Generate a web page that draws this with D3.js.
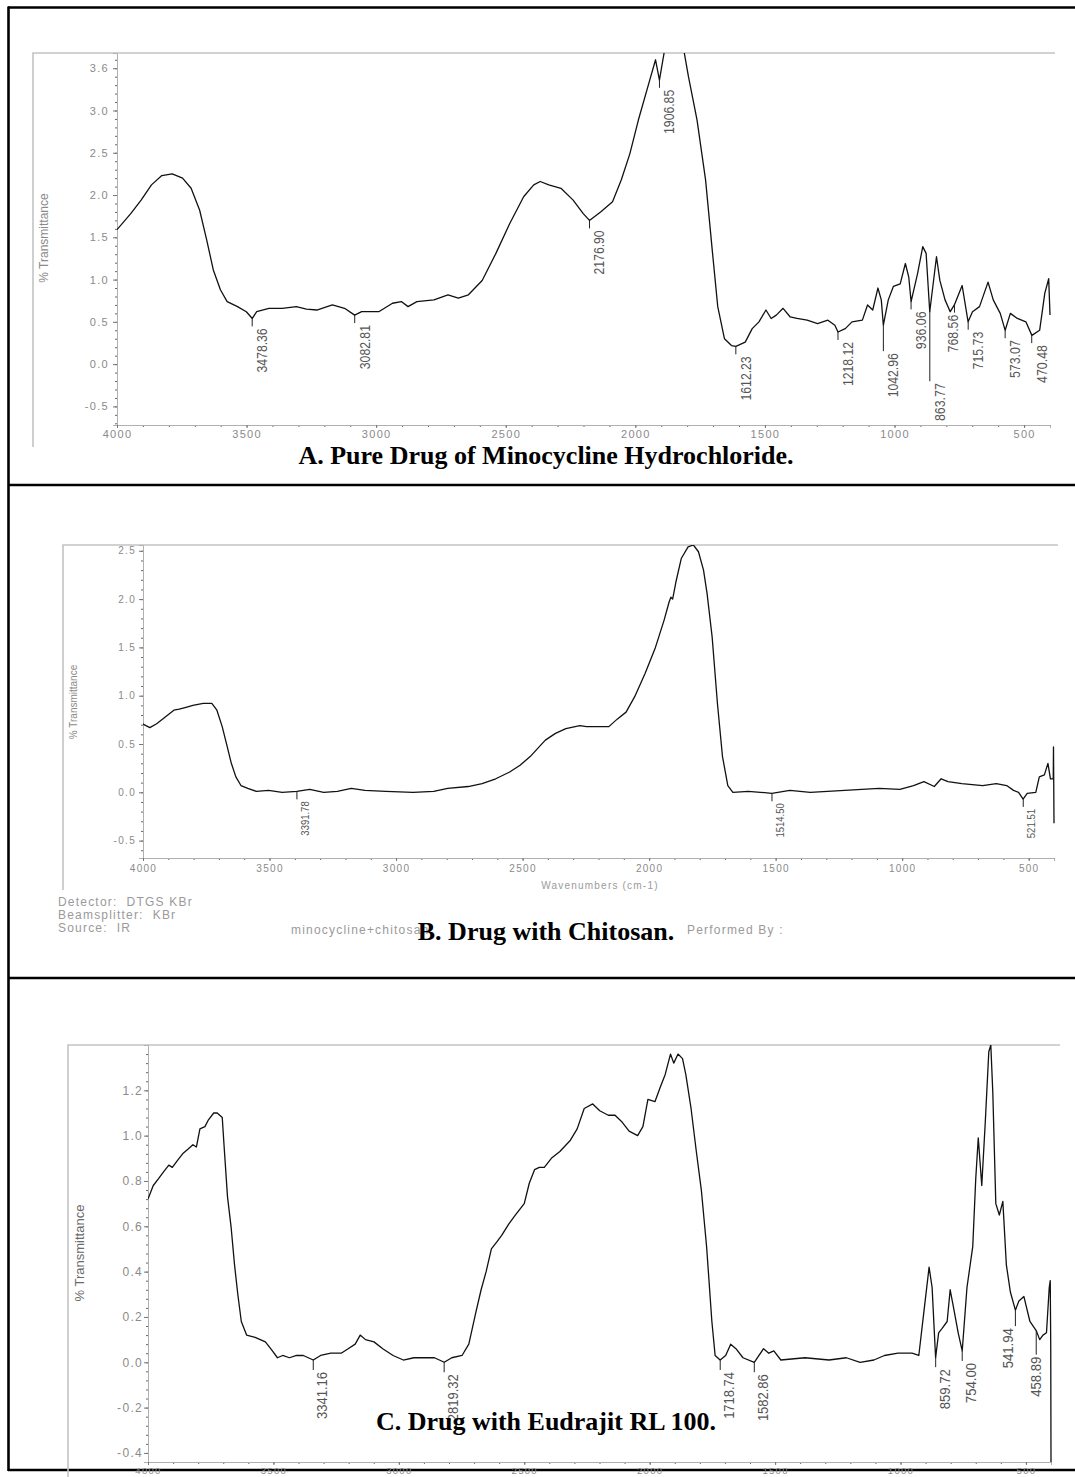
<!DOCTYPE html>
<html>
<head>
<meta charset="utf-8">
<script src="https://cdn.jsdelivr.net/npm/d3@7"></script>
<style>
  body { margin: 0; background: #fff; }
  svg { display: block; }
</style>
</head>
<body>
<svg id="fig" width="1075" height="1477"></svg>
<script>
// ---------------- data ----------------------------------------------
// [wavenumber cm-1, %T]

const specA = [[4000,1.59],[3947,1.78],[3907,1.94],[3867,2.12],[3827,2.23],[3787,2.25],[3747,2.20],[3714,2.08],[3681,1.82],[3654,1.47],[3628,1.11],[3601,0.88],[3575,0.74],[3535,0.68],[3501,0.62],[3478,0.54],[3461,0.62],[3414,0.66],[3362,0.66],[3308,0.68],[3269,0.65],[3229,0.64],[3169,0.70],[3122,0.66],[3083,0.58],[3056,0.62],[2990,0.62],[2937,0.72],[2903,0.74],[2877,0.68],[2843,0.74],[2777,0.76],[2723,0.82],[2683,0.78],[2644,0.82],[2591,0.99],[2538,1.31],[2485,1.66],[2431,1.98],[2392,2.12],[2367,2.16],[2334,2.12],[2287,2.08],[2240,1.94],[2201,1.78],[2177,1.70],[2134,1.80],[2088,1.92],[2054,2.18],[2021,2.49],[1988,2.89],[1948,3.32],[1922,3.60],[1907,3.36],[1888,3.70],[1870,3.95],[1840,4.00],[1815,3.75],[1795,3.40],[1762,2.89],[1729,2.18],[1702,1.31],[1682,0.68],[1656,0.30],[1629,0.22],[1612,0.21],[1576,0.26],[1549,0.42],[1523,0.50],[1496,0.64],[1476,0.54],[1456,0.58],[1430,0.66],[1403,0.56],[1376,0.54],[1337,0.52],[1297,0.48],[1257,0.52],[1230,0.46],[1218,0.38],[1190,0.42],[1164,0.50],[1124,0.52],[1104,0.70],[1084,0.64],[1064,0.90],[1051,0.76],[1043,0.46],[1024,0.76],[1004,0.92],[978,0.95],[958,1.19],[945,1.03],[936,0.74],[911,1.07],[891,1.39],[878,1.31],[864,0.62],[838,1.27],[825,0.99],[805,0.76],[785,0.62],[769,0.70],[739,0.93],[716,0.50],[699,0.62],[672,0.68],[639,0.97],[619,0.76],[592,0.60],[573,0.40],[553,0.60],[526,0.54],[493,0.50],[470,0.34],[440,0.40],[420,0.84],[405,1.01],[400,0.58]];

const specB = [[4000,0.71],[3996,0.70],[3973,0.67],[3946,0.71],[3912,0.78],[3878,0.85],[3857,0.86],[3830,0.88],[3803,0.90],[3762,0.92],[3728,0.92],[3708,0.85],[3687,0.68],[3667,0.47],[3651,0.30],[3633,0.16],[3613,0.07],[3586,0.04],[3552,0.01],[3504,0.02],[3450,0.00],[3392,0.01],[3341,0.03],[3286,0.00],[3232,0.01],[3177,0.04],[3123,0.02],[3041,0.01],[2933,0.00],[2851,0.01],[2796,0.04],[2715,0.06],[2660,0.09],[2606,0.14],[2551,0.21],[2510,0.28],[2470,0.37],[2442,0.45],[2410,0.54],[2370,0.61],[2329,0.66],[2274,0.69],[2247,0.68],[2206,0.68],[2159,0.68],[2125,0.76],[2091,0.83],[2057,0.99],[2016,1.23],[1975,1.50],[1941,1.78],[1921,1.97],[1914,2.02],[1907,2.00],[1893,2.19],[1873,2.42],[1846,2.54],[1825,2.56],[1805,2.49],[1785,2.30],[1771,2.06],[1751,1.61],[1730,0.92],[1710,0.37],[1689,0.07],[1669,0.00],[1608,0.01],[1560,0.00],[1515,-0.01],[1444,0.02],[1363,0.00],[1227,0.02],[1091,0.04],[1009,0.03],[955,0.07],[914,0.11],[873,0.06],[846,0.14],[819,0.11],[764,0.09],[682,0.07],[628,0.09],[587,0.07],[560,0.02],[540,0.00],[522,-0.07],[506,-0.01],[472,0.00],[458,0.16],[438,0.18],[424,0.30],[414,0.14],[403,0.14],[402,0.47],[400,-0.32]];

const specC = [[4000,0.72],[3979,0.78],[3958,0.81],[3938,0.84],[3917,0.87],[3903,0.86],[3883,0.89],[3862,0.92],[3841,0.94],[3821,0.96],[3807,0.95],[3793,1.03],[3773,1.04],[3759,1.07],[3738,1.10],[3724,1.10],[3704,1.08],[3697,0.96],[3683,0.73],[3669,0.60],[3655,0.43],[3642,0.30],[3628,0.18],[3607,0.12],[3573,0.11],[3532,0.09],[3504,0.05],[3484,0.02],[3463,0.03],[3436,0.02],[3408,0.03],[3381,0.03],[3341,0.01],[3312,0.03],[3271,0.04],[3230,0.04],[3202,0.06],[3174,0.08],[3154,0.12],[3133,0.10],[3099,0.09],[3064,0.06],[3023,0.03],[2982,0.01],[2940,0.02],[2899,0.02],[2858,0.02],[2819,0.00],[2789,0.02],[2748,0.03],[2721,0.08],[2693,0.22],[2672,0.32],[2652,0.40],[2631,0.50],[2610,0.53],[2590,0.56],[2562,0.61],[2535,0.65],[2500,0.70],[2480,0.79],[2459,0.85],[2440,0.86],[2420,0.86],[2392,0.90],[2358,0.93],[2316,0.98],[2289,1.03],[2261,1.12],[2227,1.14],[2199,1.11],[2165,1.09],[2138,1.09],[2110,1.06],[2082,1.02],[2048,1.00],[2027,1.04],[2007,1.16],[1979,1.15],[1959,1.21],[1938,1.27],[1917,1.36],[1904,1.32],[1887,1.36],[1869,1.34],[1856,1.27],[1835,1.12],[1814,0.93],[1794,0.76],[1773,0.51],[1752,0.18],[1739,0.03],[1719,0.01],[1697,0.03],[1677,0.08],[1656,0.06],[1628,0.02],[1583,0.00],[1546,0.06],[1525,0.04],[1505,0.05],[1477,0.01],[1381,0.02],[1285,0.01],[1216,0.02],[1161,0.00],[1106,0.01],[1064,0.03],[1010,0.04],[954,0.04],[927,0.03],[906,0.23],[886,0.42],[874,0.33],[860,0.02],[848,0.13],[834,0.15],[814,0.18],[802,0.32],[790,0.25],[770,0.13],[754,0.05],[735,0.33],[712,0.51],[700,0.81],[690,0.99],[676,0.78],[662,1.06],[648,1.37],[640,1.40],[632,1.19],[620,0.70],[606,0.65],[592,0.71],[578,0.43],[562,0.31],[542,0.23],[528,0.27],[508,0.29],[484,0.18],[459,0.14],[445,0.10],[432,0.12],[418,0.13],[407,0.33],[403,0.36],[401,0.06],[400,-0.44]];

// labelled peak positions
const peaksA = [3478.36, 3082.81, 2176.90, 1906.85, 1612.23, 1218.12, 1042.96, 936.06, 863.77, 768.56, 715.73, 573.07, 470.48];
const peaksB = [3391.78, 1514.50, 521.51];
const peaksC = [3341.16, 2819.32, 1718.74, 1582.86, 859.72, 754.00, 541.94, 458.89];

// axis ticks and their printed labels
const xTicks = [4000, 3500, 3000, 2500, 2000, 1500, 1000, 500];
const yTicksA = [-0.5, 0, 0.5, 1, 1.5, 2, 2.5, 3, 3.5];
const yLabelsA = ["-0.5", "0.0", "0.5", "1.0", "1.5", "2.0", "2.5", "3.0", "3.6"];
const yTicksB = [-0.5, 0, 0.5, 1, 1.5, 2, 2.5];
const yLabelsB = ["-0.5", "0.0", "0.5", "1.0", "1.5", "2.0", "2.5"];
const yTicksC = [-0.4, -0.2, 0, 0.2, 0.4, 0.6, 0.8, 1.0, 1.2];
const yLabelsC = ["-0.4", "-0.2", "0.0", "0.2", "0.4", "0.6", "0.8", "1.0", "1.2"];

const captions = ["A. Pure Drug of Minocycline Hydrochloride.", "B. Drug with Chitosan.", "C. Drug with Eudrajit RL 100."];

// ---------------- layout ----------------------------------------------
const svg = d3.select("#fig");
const sans = "'Liberation Sans', Arial, sans-serif";
const serif = "'Liberation Serif', 'Times New Roman', serif";

const panels = [
    {spec: specA, peaks: peaksA, yTicks: yTicksA, yLabels: yLabelsA, minorStep: 0.1,
     frame: {left: 33, top: 53, right: 1055, bottom: 447},
     xr: [117, 1050], yr: [425, 53], yd: [-0.72, 3.68],
     tickFont: 11, xFont: 11, xPad: 2, yLblPad: 4, title: {x: 45, y: 238, size: 12, fill: "#8a8a8a"},
     lblSize: 14, lblChar: 6.3, lblDx: 15, tick: 8,
     tickExtra: {"863.77": 70, "1042.96": 26}, dxExtra: {"768.56": -11}},
    {spec: specB, peaks: peaksB, yTicks: yTicksB, yLabels: yLabelsB, minorStep: 0.1,
     frame: {left: 63, top: 545, right: 1058, bottom: 890},
     xr: [143, 1054], yr: [858, 545], yd: [-0.68, 2.56],
     tickFont: 10, xFont: 10, xPad: 4, yLblPad: 3, title: {x: 74, y: 702, size: 10, fill: "#8a8a8a"},
     lblSize: 11, lblChar: 4.9, lblDx: 12, tick: 8, tickExtra: {}, dxExtra: {}},
    {spec: specC, peaks: peaksC, yTicks: yTicksC, yLabels: yLabelsC, minorStep: 0.04,
     frame: {left: 68, top: 1045, right: 1060, bottom: 1477},
     xr: [148, 1051], yr: [1462, 1045], yd: [-0.44, 1.40],
     tickFont: 12, xFont: 9.5, xPad: 2, yLblPad: 1, title: {x: 81, y: 1253, size: 13, fill: "#6a6a6a"},
     lblSize: 14, lblChar: 6.7, lblDx: 14, tick: 10,
     tickExtra: {"541.94": 16, "458.89": 24}, dxExtra: {"541.94": -16, "458.89": -9}}
];

function valueAt(spec, wn)
{
    for (let i = 0; i < spec.length - 1; i++) {
        const [w0, v0] = spec[i], [w1, v1] = spec[i + 1];
        if (wn <= w0 && wn >= w1) return v0 + (v1 - v0) * (w0 - wn) / ((w0 - w1) || 1);
    }
    return spec[spec.length - 1][1];
}

function styleAxis(g, size)
{
    g.select(".domain").attr("stroke", "#b0b0b0");
    g.selectAll(".tick line").attr("stroke", "#777");
    g.selectAll(".tick text")
        .attr("fill", "#8a8a8a")
        .attr("font-family", sans)
        .attr("font-size", size)
        .attr("letter-spacing", "1.3px");
}

// table rules (drawn first so panel C's cut tick labels stay on top)
const rules = [[8, 7.5, 1075, 7.5], [8.5, 6.5, 8.5, 1471], [8, 485, 1075, 485], [8, 978, 1075, 978], [8, 1470, 1075, 1470]];
svg.append("g").selectAll("line").data(rules).join("line")
    .attr("x1", d => d[0]).attr("y1", d => d[1]).attr("x2", d => d[2]).attr("y2", d => d[3])
    .attr("stroke", "#000").attr("stroke-width", 2.6);

function drawPanel(p, idx)
{
    const g = svg.append("g");
    const x = d3.scaleLinear().domain([4000, 400]).range(p.xr);
    const y = d3.scaleLinear().domain(p.yd).range(p.yr);

    // gray frame of the instrument printout
    g.append("path")
        .attr("d", `M${p.frame.left},${p.frame.bottom}V${p.frame.top}H${p.frame.right}`)
        .attr("fill", "none").attr("stroke", "#c4c4c4").attr("stroke-width", 1.6);

    // minor ticks
    const yMinor = d3.range(Math.ceil(p.yd[0] / p.minorStep), Math.floor(p.yd[1] / p.minorStep) + 1)
        .map(k => +(k * p.minorStep).toFixed(3));
    g.append("g").attr("transform", `translate(${p.xr[0]},0)`)
        .call(d3.axisLeft(y).tickValues(yMinor).tickSize(2).tickFormat(""))
        .call(a => { a.select(".domain").remove(); a.selectAll("line").attr("stroke", "#666"); });
    g.append("g").attr("transform", `translate(0,${p.yr[0]})`)
        .call(d3.axisBottom(x).tickValues(d3.range(4000, 399, -100)).tickSize(2).tickFormat(""))
        .call(a => { a.select(".domain").remove(); a.selectAll("line").attr("stroke", "#666"); });

    // main axes
    g.append("g").attr("transform", `translate(${p.xr[0]},0)`)
        .call(d3.axisLeft(y).tickValues(p.yTicks).tickSizeOuter(0).tickSize(4).tickPadding(p.yLblPad)
            .tickFormat((d, i) => p.yLabels[i]))
        .call(a => styleAxis(a, p.tickFont));
    g.append("g").attr("transform", `translate(0,${p.yr[0]})`)
        .call(d3.axisBottom(x).tickValues(xTicks).tickSizeOuter(0).tickSize(3).tickPadding(p.xPad)
            .tickFormat(d3.format("d")))
        .call(a => styleAxis(a, p.xFont));

    // y title
    g.append("text")
        .attr("transform", `translate(${p.title.x},${p.title.y}) rotate(-90)`)
        .attr("text-anchor", "middle").attr("dominant-baseline", "middle")
        .attr("font-family", sans).attr("font-size", p.title.size).attr("fill", p.title.fill)
        .text("% Transmittance");

    // spectrum
    const clipId = "clip" + idx;
    g.append("clipPath").attr("id", clipId).append("rect")
        .attr("x", p.xr[0]).attr("y", p.yr[1])
        .attr("width", p.xr[1] - p.xr[0] + 4).attr("height", p.yr[0] - p.yr[1]);
    const line = d3.line().x(d => x(d[0])).y(d => y(d[1]));
    g.append("path").datum(p.spec)
        .attr("clip-path", `url(#${clipId})`)
        .attr("d", line)
        .attr("fill", "none").attr("stroke", "#111").attr("stroke-width", 1.3)
        .attr("stroke-linejoin", "round");

    // peak picks
    const lg = g.append("g");
    p.peaks.forEach(wn => {
        const s = wn.toFixed(2);
        const px = x(wn);
        const py = Math.min(y(valueAt(p.spec, wn)), p.yr[0]);
        const len = p.tickExtra[s] || p.tick;
        const dx = p.lblDx + (p.dxExtra[s] || 0);
        lg.append("line")
            .attr("x1", px).attr("x2", px).attr("y1", py).attr("y2", py + len)
            .attr("stroke", "#222").attr("stroke-width", 1);
        lg.append("text")
            .attr("transform", `translate(${px + dx},${py + len + 2}) rotate(-90)`)
            .attr("text-anchor", "end")
            .attr("font-family", sans).attr("font-size", p.lblSize).attr("fill", "#555")
            .attr("textLength", s.length * p.lblChar).attr("lengthAdjust", "spacingAndGlyphs")
            .text(s);
    });
}

panels.forEach(drawPanel);

// extra printout text of panel B
const grayText = (t, xx, yy, size, anchor) => svg.append("text")
    .attr("x", xx).attr("y", yy).attr("text-anchor", anchor || "start")
    .attr("font-family", sans).attr("font-size", size).attr("fill", "#9a9a9a")
    .attr("letter-spacing", "1.2px").attr("xml:space", "preserve").text(t);

grayText("Wavenumbers (cm-1)", 600, 889, 10, "middle");
grayText("Detector:  DTGS KBr", 58, 906, 12);
grayText("Beamsplitter:  KBr", 58, 919, 12);
grayText("Source:  IR", 58, 932, 12);
grayText("minocycline+chitosan", 291, 934, 12);
grayText("Performed By :", 687, 934, 12);

// captions
const capY = [464, 940, 1430];
captions.forEach((c, i) => {
    svg.append("text")
        .attr("x", 546).attr("y", capY[i]).attr("text-anchor", "middle")
        .attr("font-family", serif).attr("font-weight", "bold").attr("font-size", 26)
        .attr("fill", "#000").text(c);
});
</script>
</body>
</html>
